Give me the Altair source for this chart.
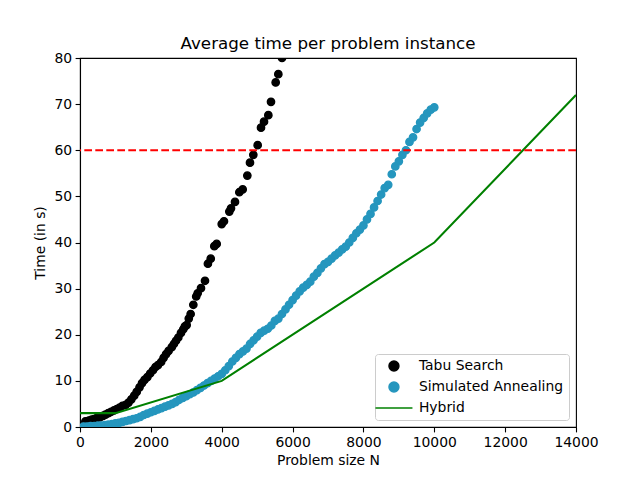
import altair as alt
import pandas as pd

series_names = ["Tabu Search", "Simulated Annealing", "Hybrid"]
series_colors = ["#000000", "#2596be", "#008000"]

tabu_n = [150, 250, 330, 400, 480, 560, 650, 720, 800, 880, 960, 1040, 1120, 1200,
          1290, 1370, 1450, 1530, 1600, 1680, 1750, 1820, 1900, 1980, 2060, 2130,
          2200, 2290, 2360, 2430, 2500, 2590, 2650, 2710, 2775, 2850, 2916, 2960,
          3011, 3070, 3123, 3199, 3280, 3321, 3415, 3528, 3610, 3690, 3791, 3858,
          4000, 4064, 4215, 4262, 4375, 4497, 4592, 4723, 4798, 4892, 5015, 5109,
          5194, 5316, 5391, 5523, 5598, 5702]
tabu_t = [1.2, 1.4, 1.6, 1.7, 2.0, 2.1, 2.4, 2.7, 3.0, 3.3, 3.6, 3.9, 4.2, 4.6,
          4.8, 5.3, 6.0, 6.8, 7.6, 8.6, 9.5, 10.2, 10.8, 11.6, 12.3, 13.0,
          13.4, 14.1, 15.0, 15.8, 16.5, 17.3, 18.0, 18.7, 19.4, 20.4, 21.2, 21.8,
          22.1, 23.5, 24.5, 26.5, 28.3, 29.0, 30.1, 31.7, 35.4, 36.5, 39.2, 39.7,
          44.0, 44.6, 46.7, 47.4, 48.8, 50.9, 51.5, 54.5, 57.3, 59.0, 61.1, 64.9,
          66.2, 67.6, 70.5, 74.7, 76.5, 80.0]

sa_n = [100, 200, 300, 400, 500, 600, 700, 800, 900, 1000,
        1100, 1200, 1300, 1400, 1500, 1600, 1700, 1800, 1900, 2000,
        2100, 2200, 2300, 2400, 2500, 2600, 2700, 2800, 2900, 3000,
        3100, 3200, 3300, 3400, 3500, 3600, 3700, 3800, 3900, 4000,
        4100, 4200, 4300, 4400, 4500, 4600, 4700, 4800, 4900, 5000,
        5100, 5200, 5300, 5400, 5500, 5600, 5700, 5800, 5900, 6000,
        6100, 6200, 6300, 6400, 6500, 6600, 6700, 6800, 6900, 7000,
        7100, 7200, 7300, 7400, 7500, 7600, 7700, 7800, 7900, 8000,
        8100, 8200, 8300, 8400, 8500, 8600, 8700, 8800, 8900, 9000,
        9100, 9200, 9300, 9400, 9500, 9600, 9700, 9800, 9900, 10000]
sa_t = [0.1, 0.1, 0.2, 0.2, 0.3, 0.3, 0.4, 0.5, 0.6, 0.8,
        0.9, 1.1, 1.3, 1.5, 1.7, 1.9, 2.2, 2.6, 2.9, 3.2,
        3.5, 3.8, 4.1, 4.4, 4.7, 5.0, 5.4, 5.9, 6.3, 6.7,
        7.1, 7.5, 8.0, 8.5, 9.0, 9.5, 10.0, 10.5, 11.0, 11.5,
        12.3, 13.2, 14.2, 15.0, 15.8, 16.4, 17.0, 18.0, 18.8, 19.6,
        20.4, 20.9, 21.3, 22.0, 23.0, 23.5, 24.5, 25.5, 26.5, 27.5,
        28.5, 29.4, 30.2, 30.8, 31.5, 32.6, 33.4, 34.4, 35.3, 35.8,
        36.5, 37.2, 37.8, 38.5, 39.1, 40.0, 41.0, 42.0, 42.8, 43.7,
        45.0, 46.2, 47.6, 49.0, 50.4, 51.8, 52.5, 54.8, 56.5, 57.6,
        59.0, 60.0, 61.8, 62.8, 64.6, 66.0, 67.0, 68.0, 68.8, 69.3]

hybrid_n = [0, 1000, 4000, 10000, 14000]
hybrid_t = [3, 3, 10, 40, 72]

limit_t = [60]

x_ticks = [0, 2000, 4000, 6000, 8000, 10000, 12000, 14000]
y_ticks = [0, 10, 20, 30, 40, 50, 60, 70, 80]

rows = []
for n, t in zip(tabu_n, tabu_t):
    rows.append({"N": n, "T": t, "series": "Tabu Search", "order": 0})
for n, t in zip(sa_n, sa_t):
    rows.append({"N": n, "T": t, "series": "Simulated Annealing", "order": 1})
points_df = pd.DataFrame(rows)
hybrid_df = pd.DataFrame({"N": hybrid_n, "T": hybrid_t, "series": "Hybrid"})
limit_df = pd.DataFrame({"T": limit_t})

x_scale = alt.Scale(domain=[0, 14000], nice=False)
y_scale = alt.Scale(domain=[0, 80], nice=False)

x_enc = alt.X("N:Q", scale=x_scale, title="Problem size N",
              axis=alt.Axis(values=x_ticks, format="d", labelFlush=False))
y_enc = alt.Y("T:Q", scale=y_scale, title="Time (in s)",
              axis=alt.Axis(values=y_ticks, format="d", labelFlush=False))

legend = alt.Legend(
    title=None, orient="none", legendX=295, legendY=296,
    fillColor="rgba(255,255,255,0.8)", strokeColor="#cccccc", cornerRadius=3,
    padding=5, rowPadding=5, labelOffset=18, symbolOffset=7, labelFontSize=13.9,
    labelFont="DejaVu Sans", labelColor="black", symbolStrokeWidth=1.4,
)

color_scale = alt.Scale(domain=series_names, range=series_colors)

points = alt.Chart(points_df).mark_point(filled=True, opacity=1, size=55,
                                         strokeWidth=1.3, clip=True).encode(
    x=x_enc,
    y=y_enc,
    color=alt.Color("series:N", scale=color_scale, legend=legend),
    stroke=alt.Stroke("series:N", scale=color_scale, legend=legend),
    shape=alt.Shape("series:N", scale=alt.Scale(domain=series_names,
                                                 range=["circle", "circle", "M-3.7,0H3.7"]),
                    legend=legend),
    order=alt.Order("order:Q"),
)

hybrid = alt.Chart(hybrid_df).mark_line(strokeWidth=2.08, clip=True).encode(
    x=x_enc,
    y=y_enc,
    color=alt.Color("series:N", scale=color_scale, legend=legend),
)

limit = alt.Chart(limit_df).mark_rule(color="red", strokeWidth=2.08,
                                      strokeDash=[7.7, 3.3]).encode(
    y=alt.Y("T:Q", scale=y_scale),
)

chart = alt.layer(points, hybrid, limit).properties(
    width=496,
    height=369,
    title=alt.TitleParams("Average time per problem instance", font="DejaVu Sans",
                          fontSize=16.7, fontWeight="normal", color="black",
                          anchor="middle", offset=-2),
    padding={"left": 72, "top": 50, "right": 56, "bottom": 45},
    autosize="none",
).configure_view(
    stroke="black", strokeWidth=1.1,
).configure_axis(
    grid=False, domainColor="black", domainWidth=1.1, tickColor="black",
    tickWidth=1.1, tickSize=4.9, labelFont="DejaVu Sans", labelFontSize=13.9,
    labelColor="black", labelPadding=3.5, titleFont="DejaVu Sans",
    titleFontSize=13.9, titleFontWeight="normal", titleColor="black",
).configure_axisX(titlePadding=4).configure_axisY(titlePadding=6)

chart.save("out.html", embed_options={"renderer": "svg", "actions": False})
